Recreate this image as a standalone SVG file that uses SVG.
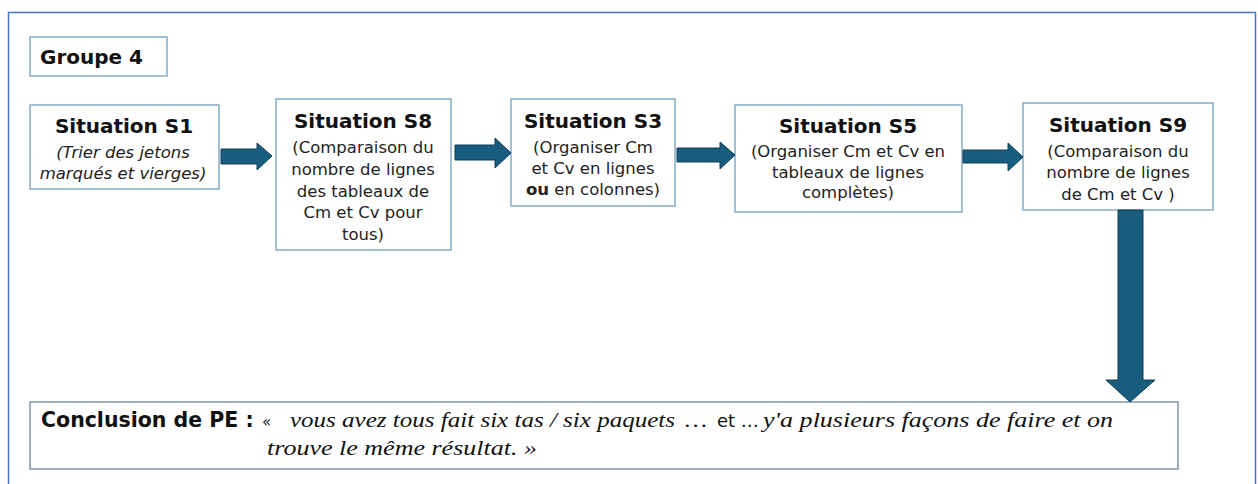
<svg xmlns="http://www.w3.org/2000/svg" width="1258" height="484" viewBox="0 0 1258 484">
<style>
.box{fill:#fff;stroke:#86acc6;stroke-width:1.5}
.cbox{fill:#fff;stroke:#8394a4;stroke-width:1.5}
.t{font-family:"DejaVu Sans",sans-serif;font-weight:bold;font-size:20px;fill:#111;text-anchor:middle}
.b{font-family:"DejaVu Sans",sans-serif;font-size:16.5px;fill:#222;text-anchor:middle}
.i{font-style:italic}
.sf{font-family:"Liberation Serif","Times New Roman",serif;font-style:italic;font-size:21px;fill:#111}
.ss{font-family:"DejaVu Sans",sans-serif;fill:#111}
.arr{fill:#185c7e;stroke:#103f58;stroke-width:1}
</style>
<rect width="1258" height="484" fill="#fff"/>
<rect x="8.5" y="12.5" width="1247" height="480" fill="none" stroke="#4472c4" stroke-width="1.5"/>
<g id="groupe">
<rect class="box" x="30" y="37" width="137" height="39"/>
<text x="40" y="64" class="ss" style="font-weight:bold;font-size:20px">Groupe 4</text>
</g>
<g id="s1">
<rect class="box" x="30" y="105" width="189" height="84"/>
<text class="t" x="124" y="133">Situation S1</text>
<text class="b i" x="123" y="158">(Trier des jetons</text>
<text class="b i" x="123" y="179">marqués et vierges)</text>
</g>
<g id="s8">
<rect class="box" x="276" y="99" width="175" height="151"/>
<text class="t" x="363" y="128">Situation S8</text>
<text class="b" x="363" y="153">(Comparaison du</text>
<text class="b" x="363" y="175">nombre de lignes</text>
<text class="b" x="363" y="197">des tableaux de</text>
<text class="b" x="363" y="218">Cm et Cv pour</text>
<text class="b" x="363" y="240">tous)</text>
</g>
<g id="s3">
<rect class="box" x="511" y="99" width="164" height="107"/>
<text class="t" x="593" y="128">Situation S3</text>
<text class="b" x="593" y="153">(Organiser Cm</text>
<text class="b" x="593" y="174">et Cv en lignes</text>
<text class="b" x="593" y="195"><tspan font-weight="bold">ou</tspan> en colonnes)</text>
</g>
<g id="s5">
<rect class="box" x="735" y="105" width="227" height="107"/>
<text class="t" x="848" y="133">Situation S5</text>
<text class="b" x="848" y="157">(Organiser Cm et Cv en</text>
<text class="b" x="848" y="178">tableaux de lignes</text>
<text class="b" x="848" y="198">complètes)</text>
</g>
<g id="s9">
<rect class="box" x="1023" y="103" width="190" height="107"/>
<text class="t" x="1118" y="132">Situation S9</text>
<text class="b" x="1118" y="157">(Comparaison du</text>
<text class="b" x="1118" y="178">nombre de lignes</text>
<text class="b" x="1118" y="200">de Cm et Cv )</text>
</g>
<g id="conclusion">
<rect class="cbox" x="30" y="402" width="1148" height="67"/>
<text x="41" y="427" class="ss" style="font-weight:bold;font-size:20.5px">Conclusion de PE :</text>
<text x="262" y="427" class="ss" style="font-size:15px">«</text>
<text x="290" y="427" class="sf" textLength="385" lengthAdjust="spacingAndGlyphs">vous avez tous fait six tas / six paquets</text>
<text x="685" y="427" class="sf" textLength="22" lengthAdjust="spacingAndGlyphs">…</text>
<text x="717" y="427" class="ss" style="font-size:18px">et …</text>
<text x="763" y="427" class="sf" textLength="350" lengthAdjust="spacingAndGlyphs">y'a plusieurs façons de faire et on</text>
<text x="267" y="455" class="sf" textLength="270" lengthAdjust="spacingAndGlyphs">trouve le même résultat. »</text>
</g>
<g id="connectors">
<polygon class="arr" points="221,149 257,149 257,143 272,156 257,170 257,164 221,164"/>
<polygon class="arr" points="455,145 495,145 495,138 511,153 495,168 495,160 455,160"/>
<polygon class="arr" points="677,148 720,148 720,142 735,155 720,169 720,162 677,162"/>
<polygon class="arr" points="963,150 1008,150 1008,143 1023,157 1008,171 1008,163 963,163"/>
<polygon class="arr" points="1118,210 1143,210 1143,380 1155,380 1130,402 1106,380 1118,380"/>
</g>
</svg>
